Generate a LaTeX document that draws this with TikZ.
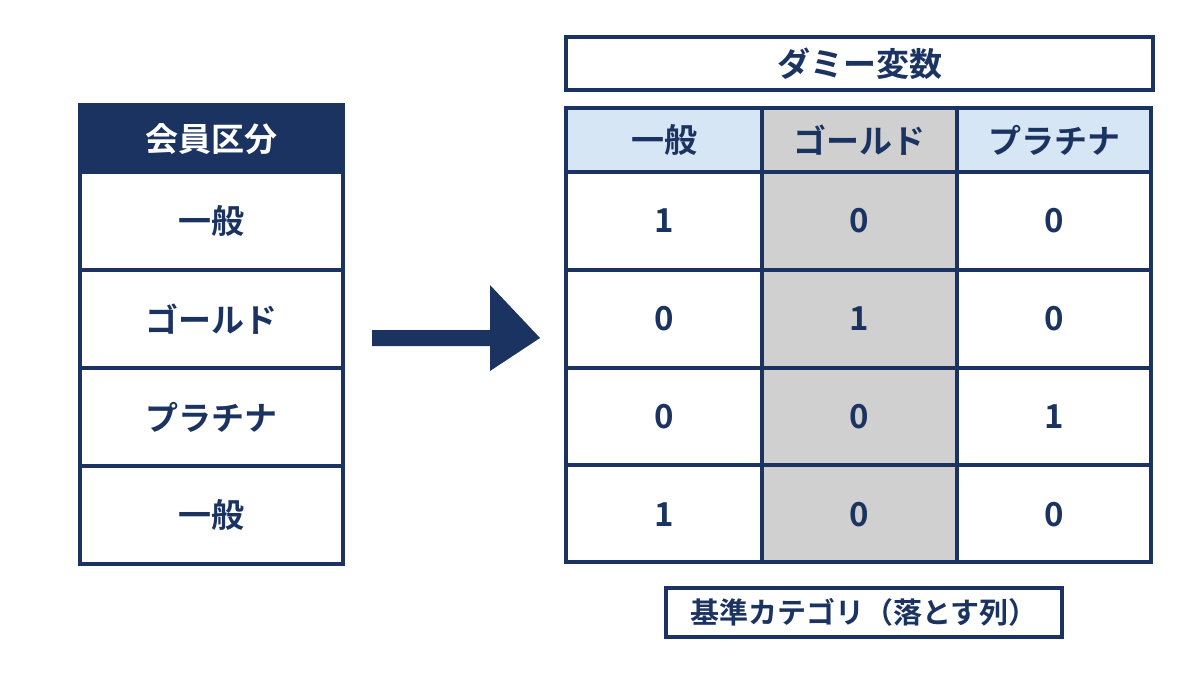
\documentclass[tikz,border=0pt]{standalone}
\usepackage{fontspec}
\newfontfamily\cjk{Noto Sans CJK JP}[BoldFont={Noto Sans CJK JP Bold}]
\definecolor{navy}{HTML}{1B3361}
\definecolor{lblue}{HTML}{D6E6F5}
\definecolor{gcol}{HTML}{D0D0D0}
\begin{document}
\begin{tikzpicture}[x=1pt,y=-1pt,
  cell/.style={draw=navy,line width=3.5pt,fill=white},
  txt/.style={font=\cjk\bfseries\fontsize{33}{36}\selectfont,text=navy},
  htxt/.style={font=\cjk\bfseries\fontsize{33}{36}\selectfont,text=white}]
\useasboundingbox (0,0) rectangle (1200,675);
% left table
\path[fill=navy,draw=navy,line width=3.5pt] (80,105) rectangle (343,172);
\node[htxt] (lh) at (211.5,139) {会員区分};
\foreach \t [count=\i] in {一般,ゴールド,プラチナ,一般}{
  \draw[cell] (80,{172+98*(\i-1)}) rectangle (343,{172+98*\i});
  \node[txt] (l\i) at (211.5,{221+98*(\i-1)}) {\t};
}
% arrow
\node (as) at (372,338) {}; \node (ae) at (540,338) {};
\fill[navy] (372,330) -- (490,330) -- (490,285) -- (540,338) -- (490,371) -- (490,346) -- (372,346) -- cycle;
% title
\draw[cell] (566,37) rectangle (1153,90);
\node[txt] (title) at (859.5,64) {ダミー変数};
% right table
\fill[lblue] (566,108) rectangle (762,172);
\fill[gcol] (762,108) rectangle (957,562);
\fill[lblue] (957,108) rectangle (1151,172);
\foreach \x in {566,762,957,1151} \draw[navy,line width=3.5pt] (\x,108) -- (\x,562);
\foreach \y in {108,172,270,368,465,562} \draw[navy,line width=3.5pt,line cap=rect] (566,\y) -- (1151,\y);
\node[txt] (h1) at (664,140) {一般};
\node[txt] (h2) at (859.5,140) {ゴールド};
\node[txt] (h3) at (1054,140) {プラチナ};
\foreach \a/\b/\c [count=\i] in {1/0/0,0/1/0,0/0/1,1/0/0}{
  \node[txt] (r\i a) at (664,{221+98*(\i-1)}) {\a};
  \node[txt] (r\i b) at (859.5,{221+98*(\i-1)}) {\b};
  \node[txt] (r\i c) at (1054,{221+98*(\i-1)}) {\c};
}
% bottom label
\draw[cell] (666,588) rectangle (1062,637);
\node[txt,font=\cjk\bfseries\fontsize{29}{32}\selectfont] (base) at (864,612) {基準カテゴリ（落とす列）};
\end{tikzpicture}
\end{document}
